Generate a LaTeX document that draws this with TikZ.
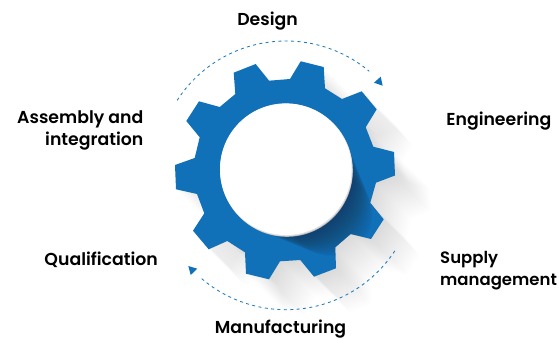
\documentclass[tikz,border=0pt]{standalone}
\usepackage{fontspec}
\setmainfont{Poppins SemiBold}
\definecolor{gearblue}{HTML}{1071B9}
\definecolor{arcblue}{HTML}{1F78BD}
\definecolor{gearshade}{HTML}{26364F}
\def\gearpath{(300.7,61.3)--(323.7,67)--(325,88.3)--(342,99)--(361.7,91.3)--(376.7,109.3)--(365.7,127.3)--(373.3,146.7)--(394,152)--(395,175.5)--(376,182.7)--(370.3,202.7)--(383.7,219.3)--(371,239)--(350.7,234)--(335.3,247.3)--(336,268.3)--(314,276.7)--(300.3,260)--(280,261.3)--(269,279.3)--(246,273.7)--(245,252.3)--(227.3,241)--(208.7,249.3)--(193,230.7)--(204.3,213.3)--(197,194)--(176,189.3)--(175,165)--(194.7,158)--(199.7,137.3)--(186.3,121)--(199,101.3)--(219.7,107)--(235.3,94)--(233.7,72.7)--(255.7,64)--(269,80.7)--(290,79)--cycle}
\tikzset{
  label text/.style={font=\fontsize{17.3}{22.6}\selectfont,text=black,inner sep=0pt},
  narrow text/.style={font=\fontsize{16.5}{22.6}\selectfont,text=black,inner sep=0pt},
  dash arc/.style={draw=arcblue,line width=0.85pt,dash pattern=on 3pt off 3.4pt},
  arc tip/.style={fill=gearblue,draw=none},
}
\begin{document}
\begin{tikzpicture}[x=1pt,y=-1pt]
\useasboundingbox (0,0) rectangle (559,339);
% long shadow
\foreach \i in {1,...,36}{
  \fill[black,opacity=.0032,shift={(\i,\i)}] \gearpath;
}
% gear
\fill[gearblue] \gearpath;
% shadow of the disc on the gear
\begin{scope}
  \clip \gearpath;
  \foreach \i in {1,...,46}{
    \pgfmathsetmacro{\rr}{66-0.55*\i}
    \fill[gearshade,opacity=.019,shift={(\i,\i)}] (286,169.5) circle[radius=\rr];
  }
\end{scope}
% disc
\fill[black!28] (286.8,170.8) circle[radius=66];
\fill[black!12] (286.3,169.9) circle[radius=66.2];
\fill[white] (285.8,169.2) circle[radius=65.8];
% arcs
\draw[dash arc] plot[domain=-147.2:-50,samples=70] ({286+129.5*cos(\x)},{170.5+129.5*sin(\x)});
\fill[arc tip] (374,82.7)--(380.7,76.7)--(382.7,85.7)--cycle;
\draw[dash arc] plot[domain=33.2:131,samples=70] ({286+130*cos(\x)},{179.7+130*sin(\x)});
\fill[arc tip] (188.3,266)--(197.3,268.7)--(190.7,275)--cycle;
% labels
\node[label text] (design) at (267.5,21) {Design};
\node[label text,anchor=east] (engineering) at (551.5,121.5) {Engineering};
\node[label text,anchor=east,align=right] (assembly) at (143.5,130.5) {Assembly and\\integration};
\node[label text,anchor=east] (qualification) at (158,259.5) {Qualification};
\node[narrow text,anchor=west,align=left] (supply) at (440,270.5) {Supply\\management};
\node[label text] (manufacturing) at (280.5,329.5) {Manufacturing};
\end{tikzpicture}
\end{document}
